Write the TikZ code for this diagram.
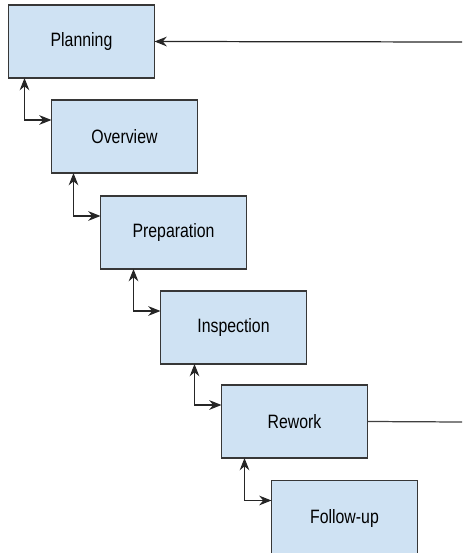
\documentclass[tikz,border=0pt]{standalone}
\usepackage{fontspec}
\setmainfont{Liberation Sans}[FakeStretch=0.82]
\usetikzlibrary{arrows.meta, calc}
\definecolor{stepcolor}{RGB}{207, 226, 243}
\definecolor{edgecolor}{RGB}{55, 55, 55}
\tikzset{
	baseblock/.style={
		rectangle, fill=stepcolor,
		minimum width=2.92cm, minimum height=1.46cm,
		align=center, font=\fontsize{11}{13}\selectfont,
		draw=edgecolor, line width=0.7pt, outer sep=0pt
	},
	arrow/.style={
		-{Stealth[length=7pt, width=5.5pt]}, line width=0.7pt, color=black!85
	},
	dblarrow/.style={
		{Stealth[length=7pt, width=5.5pt]}-{Stealth[length=7pt, width=5.5pt]},
		line width=0.7pt, color=black!85
	},
	plainline/.style={
		line width=0.7pt, color=black!75
	}
}
\begin{document}
\begin{tikzpicture}
		\clip (0,0) rectangle (9.24,-11.06);
		
		%% ═══════════════════════════════
		%%  STEPS — staircase
		%% ═══════════════════════════════
		\node[baseblock] (planning) at (1.63,-0.83)  {Planning};
		\node[baseblock] (overview) at (2.49,-2.73)  {Overview};
		\node[baseblock] (prep)     at (3.47,-4.65)  {Preparation};
		\node[baseblock] (inspect)  at (4.67,-6.55)  {Inspection};
		\node[baseblock] (rework)   at (5.89,-8.43)  {Rework};
		\node[baseblock, minimum height=1.5cm] (followup) at (6.89,-10.36) {Follow-up};
		
		%% ═══════════════════════════════
		%%  OUTSIDE ENDS
		%% ═══════════════════════════════
		\coordinate (entry) at (9.24,-0.84);
		\coordinate (exit)  at (9.24,-8.44);
		
		%% ═══════════════════════════════
		%%  ARROWS
		%% ═══════════════════════════════
		
		% entry → Planning
		\draw[arrow] (entry) -- (planning.east);
		
		% Rework → out
		\draw[plainline] (rework.east) -- (exit);
		
		% step ↔ next step
		\coordinate (k1) at ($(overview.north west)+(-0.54,-0.40)$);
		\coordinate (k2) at ($(prep.north west)+(-0.54,-0.40)$);
		\coordinate (k3) at ($(inspect.north west)+(-0.54,-0.40)$);
		\coordinate (k4) at ($(rework.north west)+(-0.54,-0.40)$);
		\coordinate (k5) at ($(followup.north west)+(-0.54,-0.40)$);
		\draw[dblarrow] (planning.south -| k1) |- (overview.west |- k1);
		\draw[dblarrow] (overview.south -| k2) |- (prep.west |- k2);
		\draw[dblarrow] (prep.south -| k3)     |- (inspect.west |- k3);
		\draw[dblarrow] (inspect.south -| k4)  |- (rework.west |- k4);
		\draw[dblarrow] (rework.south -| k5)   |- (followup.west |- k5);
\end{tikzpicture}
\end{document}
